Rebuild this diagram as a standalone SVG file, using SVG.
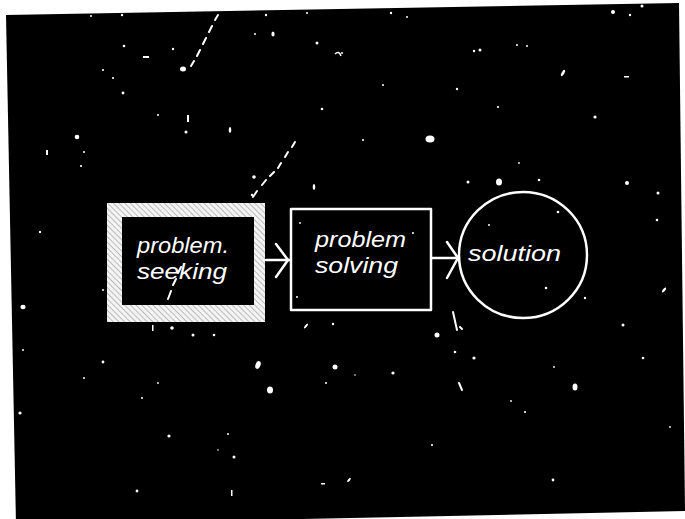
<svg xmlns="http://www.w3.org/2000/svg" width="685" height="519" viewBox="0 0 685 519">
  <defs>
    <pattern id="hatch" patternUnits="userSpaceOnUse" width="4" height="4" patternTransform="rotate(-45)">
      <rect width="4" height="4" fill="#f4f4f4"/>
      <line x1="0" y1="0" x2="0" y2="4" stroke="#666" stroke-width="0.8"/>
    </pattern>
    <style>
      .lbl { font-family: "Liberation Sans", "DejaVu Sans", sans-serif; font-style: italic; font-size: 22px; fill: #fff; }
      .ln { stroke: #fff; stroke-width: 2.5; fill: none; stroke-linecap: round; stroke-linejoin: round; }
      .sp { fill: #fff; }
      .spl { stroke: #fff; stroke-width: 2; fill: none; stroke-linecap: round; }
    </style>
  </defs>
  <rect width="685" height="519" fill="#fff"/>
  <polygon points="6,15 679,3 685,509 685,511 16,525" fill="#000"/>

  <g id="specks">
    <path class="spl" d="M218,15 L215,20 M212,26 L209,32 M206,38 L203,44 M200,50 L197,56 M194,61 L191,66 M295,142 L292,147 M288,152 L285,157 M281,163 L278,168 M274,172 L270,176 M266,180 L262,185 M257,191 L253,197 M181,267 L178,273 M176,279 L173,285 M171,291 L168,299"/>
    <g class="sp">
      <ellipse cx="183" cy="69" rx="3" ry="2.5"/>
      <circle cx="124" cy="46" r="1.3"/>
      <rect x="143" y="56" width="6" height="2"/>
      <circle cx="173" cy="49" r="1.2"/>
      <circle cx="103" cy="70" r="1.1"/>
      <circle cx="113" cy="78" r="1.1"/>
      <circle cx="123" cy="93" r="1.4"/>
      <circle cx="158" cy="115" r="1"/>
      <rect x="187" y="115" width="2" height="7"/>
      <circle cx="186" cy="132" r="1.5"/>
      <ellipse cx="230" cy="130" rx="1.3" ry="3"/>
      <circle cx="77" cy="137" r="2.3"/>
      <rect x="46" y="150" width="2" height="5"/>
      <circle cx="84" cy="152" r="1"/>
      <circle cx="81" cy="166" r="1.1"/>
      <ellipse cx="273" cy="34" rx="1.6" ry="2.5"/>
      <circle cx="255" cy="34" r="1"/>
      <circle cx="317" cy="43" r="1.5"/>
      <path d="M335,54 Q339,50 341,56" stroke="#fff" stroke-width="1.5" fill="none"/>
      <circle cx="322" cy="109" r="1.3"/>
      <circle cx="254" cy="177" r="1.8"/>
      <ellipse cx="314" cy="187" rx="1.3" ry="3"/>
      <circle cx="266" cy="15" r="1.2"/>
      <circle cx="122" cy="15" r="1.2"/>
      <circle cx="91" cy="16" r="1"/>
      <circle cx="307" cy="13" r="1"/>
      <circle cx="391" cy="13" r="1.2"/>
      <circle cx="407" cy="17" r="1"/>
      <circle cx="613" cy="12" r="2"/>
      <circle cx="630" cy="15" r="1.2"/>
      <circle cx="642" cy="6" r="1.5"/>
      <circle cx="474" cy="51" r="1.2"/>
      <circle cx="480" cy="50" r="1.5"/>
      <circle cx="517" cy="45" r="1"/>
      <circle cx="527" cy="46" r="1"/>
      <circle cx="342" cy="53" r="1"/>
      <circle cx="383" cy="85" r="1"/>
      <circle cx="457" cy="89" r="1.2"/>
      <circle cx="498" cy="107" r="1.1"/>
      <ellipse cx="563" cy="73" rx="1.3" ry="3.5" transform="rotate(30 563 73)"/>
      <rect x="624" y="76" width="5" height="1.5"/>
      <circle cx="595" cy="117" r="1.6"/>
      <circle cx="363" cy="140" r="1.1"/>
      <ellipse cx="430" cy="139" rx="4.5" ry="3.5"/>
      <circle cx="519" cy="163" r="0.9"/>
      <circle cx="468" cy="182" r="1.5"/>
      <ellipse cx="499" cy="182" rx="3" ry="3.5"/>
      <circle cx="539" cy="180" r="1.3"/>
      <circle cx="627" cy="183" r="2"/>
      <circle cx="658" cy="193" r="1.5"/>
      <circle cx="558" cy="212" r="1.3"/>
      <circle cx="489" cy="225" r="1"/>
      <circle cx="546" cy="288" r="1.3"/>
      <circle cx="585" cy="298" r="1.2"/>
      <circle cx="252" cy="195" r="1.2"/>
      <circle cx="103" cy="290" r="1"/>
      <circle cx="300" cy="223" r="0.9"/>
      <circle cx="297" cy="297" r="1"/>
      <circle cx="413" cy="233" r="1"/>
      <circle cx="657" cy="220" r="1.3"/>
      <ellipse cx="664" cy="290" rx="1.3" ry="3" transform="rotate(40 664 290)"/>
      <circle cx="40" cy="232" r="1.2"/>
      <ellipse cx="23" cy="307" rx="2.6" ry="2.2"/>
      <circle cx="23" cy="350" r="1"/>
      <circle cx="20" cy="413" r="1.6"/>
      <circle cx="103" cy="362" r="1.4"/>
      <circle cx="84" cy="378" r="1"/>
      <circle cx="158" cy="383" r="0.9"/>
      <circle cx="142" cy="398" r="1"/>
      <rect x="152" y="325" width="1.5" height="6"/>
      <circle cx="172" cy="328" r="1.8"/>
      <circle cx="193" cy="335" r="1.5"/>
      <circle cx="214" cy="335" r="1.3"/>
      <ellipse cx="306" cy="326" rx="1" ry="3" transform="rotate(40 306 326)"/>
      <circle cx="333" cy="324" r="1.2"/>
      <ellipse cx="258" cy="365" rx="2.5" ry="4" transform="rotate(20 258 365)"/>
      <ellipse cx="270" cy="390" rx="3" ry="3.5"/>
      <circle cx="335" cy="367" r="2.5"/>
      <circle cx="326" cy="383" r="1"/>
      <circle cx="169" cy="436" r="1.6"/>
      <circle cx="228" cy="434" r="1"/>
      <circle cx="218" cy="450" r="0.8"/>
      <circle cx="234" cy="457" r="1.5"/>
      <circle cx="137" cy="491" r="1.4"/>
      <rect x="231" y="490" width="1.5" height="6"/>
      <rect x="321" y="483" width="4" height="1.5"/>
      <circle cx="437" cy="335" r="2.5"/>
      <circle cx="455" cy="352" r="1.3"/>
      <circle cx="474" cy="358" r="1.6"/>
      <circle cx="393" cy="373" r="1.6"/>
      <circle cx="355" cy="375" r="0.8"/>
      <circle cx="511" cy="401" r="0.9"/>
      <circle cx="525" cy="412" r="1.1"/>
      <circle cx="554" cy="367" r="0.9"/>
      <ellipse cx="575" cy="387" rx="2.5" ry="3.5"/>
      <circle cx="623" cy="325" r="1.5"/>
      <circle cx="643" cy="358" r="1.3"/>
      <circle cx="670" cy="427" r="0.9"/>
      <circle cx="432" cy="445" r="1.1"/>
      <ellipse cx="349" cy="480" rx="1" ry="2.5" transform="rotate(40 349 480)"/>
      <circle cx="553" cy="480" r="1.4"/>
    </g>
    <path class="spl" d="M453,312 L457,330 M459,383 L462,390 M460,327 L462,329"/>
  </g>

  <g id="connectors">
    <line class="ln" x1="266" y1="260" x2="290" y2="260"/>
    <polyline class="ln" points="276,244 288,260 276,277"/>
    <line class="ln" x1="432" y1="258" x2="459" y2="258"/>
    <polyline class="ln" points="447,242 458,258 447,278"/>
  </g>

  <g id="problem-seeking">
    <path d="M107,203 H265 V322 H107 Z M122,217 V305 H254 V217 Z" fill="url(#hatch)" fill-rule="evenodd"/>
    <text class="lbl" x="137" y="253" textLength="92" lengthAdjust="spacingAndGlyphs">problem.</text>
    <text class="lbl" x="137" y="279" textLength="90" lengthAdjust="spacingAndGlyphs">seeking</text>
  </g>

  <g id="problem-solving">
    <rect class="ln" x="291" y="209" width="140" height="101"/>
    <text class="lbl" x="315" y="247" textLength="91" lengthAdjust="spacingAndGlyphs">problem</text>
    <text class="lbl" x="315" y="273" textLength="83" lengthAdjust="spacingAndGlyphs">solving</text>
  </g>

  <g id="solution">
    <ellipse class="ln" cx="523" cy="255" rx="64" ry="63"/>
    <text class="lbl" x="468" y="261" textLength="93" lengthAdjust="spacingAndGlyphs">solution</text>
  </g>
</svg>
